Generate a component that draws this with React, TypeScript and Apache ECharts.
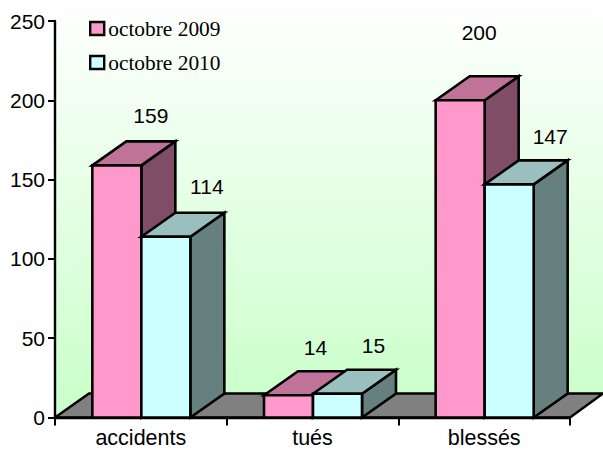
import React, { useEffect, useRef } from "react";
import * as echarts from "echarts";

const categories = ["accidents", "tués", "blessés"];
const octobre2009 = [159, 14, 200];
const octobre2010 = [114, 15, 147];
const seriesNames = ["octobre 2009", "octobre 2010"];

const BAR_W = 49;
const DX = 34;
const DY = 24;
const labelShift = [
  [[34, -50], [27, -48], [19, -68]],
  [[41, -50], [36, -48], [41, -48]],
];
const palette = [
  { front: "#ff99cc", top: "#bf7399", side: "#804d66" },
  { front: "#ccffff", top: "#99bfbf", side: "#668080" },
];

const makeRender = (s: number) => (params: any, api: any) => {
  const idx = api.value(0);
  const val = api.value(1);
  const [cxRaw, yTop] = api.coord([idx, val]);
  const cx = cxRaw + 0.5;
  const yBase = api.coord([idx, 0])[1];
  const x0 = cx + (s - 1) * BAR_W;
  const x1 = x0 + BAR_W;
  const c = palette[s];
  const line = { stroke: "#000", lineWidth: 2.6, lineJoin: "miter" };
  const [sx, sy] = labelShift[s][params.dataIndex];
  return {
    type: "group",
    children: [
      { type: "polygon", shape: { points: [[x1, yTop], [x1 + DX, yTop - DY], [x1 + DX, yBase - DY], [x1, yBase]] }, style: { fill: c.side, ...line } },
      { type: "polygon", shape: { points: [[x0, yTop], [x0 + DX, yTop - DY], [x1 + DX, yTop - DY], [x1, yTop]] }, style: { fill: c.top, ...line } },
      { type: "rect", shape: { x: x0, y: yTop, width: BAR_W, height: yBase - yTop }, style: { fill: c.front, ...line } },
      { type: "text", x: (x0 + x1) / 2 + sx, y: yTop + sy, style: { text: String(val), fill: "#000", font: '21px "Liberation Sans"', textAlign: "center", textVerticalAlign: "middle" } },
    ],
  };
};

export default function App() {
  const ref = useRef<HTMLDivElement>(null);
  useEffect(() => {
    const chart = echarts.init(ref.current!, null, { renderer: "svg" });
    const axisLine = { show: true, lineStyle: { color: "#000", width: 2.4 } };
    const axisTick = { show: true, length: 8, lineStyle: { color: "#000", width: 2 } };
    chart.setOption({
      animation: false,
      backgroundColor: "#fff",
      grid: { left: 55, right: 33, top: 21, bottom: 32.5, outerBoundsMode: "none" },
      legend: {
        orient: "vertical",
        left: 84,
        top: 13,
        itemWidth: 14,
        itemHeight: 13,
        itemGap: 13,
        selectedMode: false,
        textStyle: { fontFamily: "Liberation Serif", fontSize: 21.4, color: "#000", padding: [0, 0, 0, -1] },
        data: seriesNames.map((name, i) => ({
          name,
          icon: "rect",
          itemStyle: { color: palette[i].front, borderColor: "#000", borderWidth: 2.4 },
        })),
      },
      xAxis: {
        type: "category",
        data: categories,
        axisLine,
        axisTick,
        axisLabel: { color: "#000", fontFamily: "Liberation Sans", fontSize: 21.5, lineHeight: 16, margin: 12 },
      },
      yAxis: {
        type: "value",
        min: 0,
        max: 250,
        interval: 50,
        splitLine: { show: false },
        axisLine,
        axisTick: { show: true, length: 7, lineStyle: { color: "#000", width: 2 } },
        axisLabel: { color: "#000", fontFamily: "Liberation Sans", fontSize: 21, margin: 10 },
      },
      graphic: [
        {
          type: "polygon",
          z: -2,
          shape: { points: [[55, 0], [603, 0], [603, 393.5], [570, 417.5], [55, 417.5]] },
          style: {
            fill: new echarts.graphic.LinearGradient(0, 0, 0, 1, [
              { offset: 0, color: "#ffffff" },
              { offset: 0.94, color: "#ccffcc" },
              { offset: 1, color: "#ccffcc" },
            ]),
          },
        },
        {
          type: "polygon",
          z: -1,
          shape: { points: [[55, 417.5], [89, 393.5], [603, 393.5], [570, 417.5]] },
          style: { fill: "#808080", stroke: "#000", lineWidth: 2.4 },
        },
      ],
      series: [octobre2009, octobre2010].map((vals, s) => ({
        type: "custom",
        name: seriesNames[s],
        z: 3 + s,
        clip: false,
        encode: { x: 0, y: 1 },
        data: vals.map((v, i) => [i, v]),
        renderItem: makeRender(s),
      })),
    });
    return () => chart.dispose();
  }, []);
  return <div ref={ref} style={{ position: "absolute", left: 0, top: 0, width: 603, height: 450 }} />;
}
